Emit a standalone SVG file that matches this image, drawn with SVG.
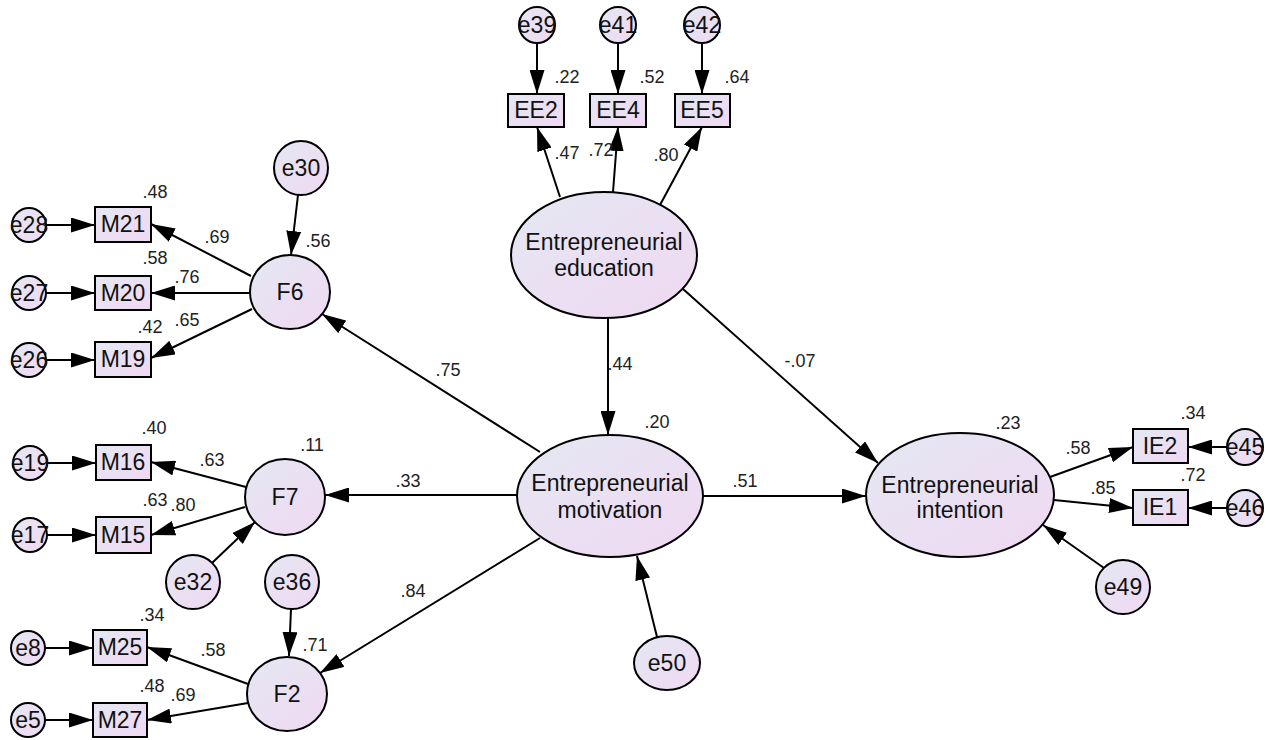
<svg xmlns="http://www.w3.org/2000/svg" width="1270" height="740" viewBox="0 0 1270 740">
<defs>
<linearGradient id="g" x1="0" y1="0" x2="1" y2="1">
<stop offset="0" stop-color="#e4e8f2"/>
<stop offset="1" stop-color="#f0d8f2"/>
</linearGradient>
<marker id="ah" viewBox="0 0 24 15" refX="24" refY="7.5" markerWidth="24" markerHeight="15" markerUnits="userSpaceOnUse" orient="auto">
<path d="M0,0 L24,7.5 L0,15 z" fill="#000"/>
</marker>
</defs>
<style>
.n{fill:url(#g);stroke:#000;stroke-width:2}
.t{font-family:"Liberation Sans",Arial,sans-serif;font-size:23px;text-anchor:middle;fill:#111}
.v{font-family:"Liberation Sans",Arial,sans-serif;font-size:18px;text-anchor:middle;fill:#222}
.c line{stroke:#000;stroke-width:2;marker-end:url(#ah)}
</style>
<rect width="1270" height="740" fill="#fff"/>
<g class="c" id="connectors">
<line x1="537" y1="43" x2="537" y2="94"/>
<line x1="618" y1="43" x2="618" y2="94"/>
<line x1="702" y1="43" x2="702" y2="94"/>
<line x1="560" y1="197" x2="537" y2="127"/>
<line x1="613" y1="192" x2="618" y2="127"/>
<line x1="660" y1="205" x2="702" y2="127"/>
<line x1="608" y1="318" x2="608" y2="435"/>
<line x1="683" y1="289" x2="878" y2="463"/>
<line x1="703" y1="496" x2="866" y2="496"/>
<line x1="540" y1="452" x2="322" y2="314"/>
<line x1="517" y1="495" x2="325" y2="495"/>
<line x1="540" y1="538" x2="320" y2="673"/>
<line x1="657" y1="637" x2="637" y2="556"/>
<line x1="1104" y1="568" x2="1043" y2="525"/>
<line x1="1050" y1="477" x2="1133" y2="447"/>
<line x1="1054" y1="500" x2="1133" y2="508"/>
<line x1="1227" y1="447" x2="1188" y2="447"/>
<line x1="1227" y1="508" x2="1188" y2="508"/>
<line x1="251" y1="276" x2="151" y2="224"/>
<line x1="250" y1="293" x2="151" y2="293"/>
<line x1="252" y1="309" x2="151" y2="358"/>
<line x1="46" y1="225" x2="95" y2="225"/>
<line x1="46" y1="293" x2="95" y2="293"/>
<line x1="46" y1="360" x2="95" y2="360"/>
<line x1="298" y1="195" x2="291" y2="255"/>
<line x1="246" y1="487" x2="151" y2="462"/>
<line x1="245" y1="507" x2="151" y2="535"/>
<line x1="212" y1="563" x2="255" y2="522"/>
<line x1="47" y1="463" x2="96" y2="463"/>
<line x1="47" y1="535" x2="96" y2="535"/>
<line x1="248" y1="684" x2="147" y2="647"/>
<line x1="248" y1="703" x2="147" y2="720"/>
<line x1="291" y1="609" x2="289" y2="656"/>
<line x1="45" y1="648" x2="93" y2="648"/>
<line x1="45" y1="720" x2="93" y2="720"/>
</g>
<g id="edu"><ellipse class="n" cx="604" cy="255" rx="93" ry="63"/><text class="t" x="604" y="250">Entrepreneurial</text><text class="t" x="604" y="276">education</text></g>
<g id="mot"><ellipse class="n" cx="610" cy="496" rx="93" ry="61"/><text class="t" x="610" y="491">Entrepreneurial</text><text class="t" x="610" y="518">motivation</text></g>
<g id="int"><ellipse class="n" cx="960" cy="495" rx="94" ry="62"/><text class="t" x="960" y="493">Entrepreneurial</text><text class="t" x="960" y="518">intention</text></g>
<g id="EE2"><rect class="n" x="508" y="94" width="56" height="33"/><text class="t" x="536" y="118">EE2</text></g>
<g id="EE4"><rect class="n" x="590" y="94" width="56" height="33"/><text class="t" x="618" y="118">EE4</text></g>
<g id="EE5"><rect class="n" x="675" y="94" width="55" height="33"/><text class="t" x="702" y="118">EE5</text></g>
<g id="e39"><circle class="n" cx="537" cy="25" r="18"/><text class="t" x="537" y="33">e39</text></g>
<g id="e41"><circle class="n" cx="618" cy="25" r="18"/><text class="t" x="618" y="33">e41</text></g>
<g id="e42"><circle class="n" cx="702" cy="25" r="18"/><text class="t" x="702" y="33">e42</text></g>
<g id="IE2"><rect class="n" x="1133" y="429" width="55" height="34"/><text class="t" x="1160" y="454">IE2</text></g>
<g id="IE1"><rect class="n" x="1133" y="490" width="55" height="35"/><text class="t" x="1160" y="515">IE1</text></g>
<g id="e45"><circle class="n" cx="1245" cy="447" r="18"/><text class="t" x="1245" y="455">e45</text></g>
<g id="e46"><circle class="n" cx="1245" cy="508" r="18"/><text class="t" x="1245" y="516">e46</text></g>
<g id="e49"><circle class="n" cx="1123" cy="587" r="27"/><text class="t" x="1123" y="595">e49</text></g>
<g id="e50"><ellipse class="n" cx="667" cy="663" rx="33" ry="27"/><text class="t" x="667" y="671">e50</text></g>
<g id="F6"><ellipse class="n" cx="290" cy="292" rx="40" ry="37"/><text class="t" x="290" y="300">F6</text></g>
<g id="F7"><ellipse class="n" cx="285" cy="497" rx="40" ry="38"/><text class="t" x="285" y="505">F7</text></g>
<g id="F2"><ellipse class="n" cx="287" cy="694" rx="40" ry="37"/><text class="t" x="287" y="702">F2</text></g>
<g id="e30"><circle class="n" cx="301" cy="168" r="27"/><text class="t" x="301" y="176">e30</text></g>
<g id="e32"><circle class="n" cx="193" cy="582" r="27"/><text class="t" x="193" y="590">e32</text></g>
<g id="e36"><circle class="n" cx="292" cy="582" r="27"/><text class="t" x="292" y="590">e36</text></g>
<g id="M21"><rect class="n" x="95" y="207" width="56" height="35"/><text class="t" x="123" y="232">M21</text></g>
<g id="M20"><rect class="n" x="95" y="276" width="56" height="34"/><text class="t" x="123" y="301">M20</text></g>
<g id="M19"><rect class="n" x="95" y="342" width="56" height="35"/><text class="t" x="123" y="367">M19</text></g>
<g id="M16"><rect class="n" x="96" y="445" width="55" height="35"/><text class="t" x="123" y="470">M16</text></g>
<g id="M15"><rect class="n" x="96" y="517" width="55" height="36"/><text class="t" x="123" y="543">M15</text></g>
<g id="M25"><rect class="n" x="93" y="630" width="54" height="35"/><text class="t" x="120" y="655">M25</text></g>
<g id="M27"><rect class="n" x="93" y="703" width="54" height="34"/><text class="t" x="120" y="728">M27</text></g>
<g id="e28"><circle class="n" cx="29" cy="225" r="17"/><text class="t" x="29" y="233">e28</text></g>
<g id="e27"><circle class="n" cx="29" cy="293" r="17"/><text class="t" x="29" y="301">e27</text></g>
<g id="e26"><circle class="n" cx="29" cy="360" r="17"/><text class="t" x="29" y="368">e26</text></g>
<g id="e19"><circle class="n" cx="30" cy="463" r="17"/><text class="t" x="30" y="471">e19</text></g>
<g id="e17"><circle class="n" cx="30" cy="535" r="17"/><text class="t" x="30" y="543">e17</text></g>
<g id="e8"><circle class="n" cx="28" cy="648" r="17"/><text class="t" x="28" y="656">e8</text></g>
<g id="e5"><circle class="n" cx="28" cy="720" r="17"/><text class="t" x="28" y="728">e5</text></g>
<g id="labels">
<text class="v" x="567" y="83">.22</text>
<text class="v" x="652" y="83">.52</text>
<text class="v" x="737" y="83">.64</text>
<text class="v" x="567" y="159">.47</text>
<text class="v" x="601" y="156">.72</text>
<text class="v" x="666" y="161">.80</text>
<text class="v" x="620" y="370">.44</text>
<text class="v" x="657" y="428">.20</text>
<text class="v" x="800" y="367">-.07</text>
<text class="v" x="745" y="487">.51</text>
<text class="v" x="1008" y="429">.23</text>
<text class="v" x="1078" y="454">.58</text>
<text class="v" x="1103" y="494">.85</text>
<text class="v" x="1193" y="419">.34</text>
<text class="v" x="1193" y="481">.72</text>
<text class="v" x="448" y="376">.75</text>
<text class="v" x="408" y="487">.33</text>
<text class="v" x="413" y="597">.84</text>
<text class="v" x="155" y="198">.48</text>
<text class="v" x="155" y="264">.58</text>
<text class="v" x="150" y="333">.42</text>
<text class="v" x="217" y="243">.69</text>
<text class="v" x="187" y="283">.76</text>
<text class="v" x="187" y="326">.65</text>
<text class="v" x="318" y="247">.56</text>
<text class="v" x="154" y="434">.40</text>
<text class="v" x="155" y="506">.63</text>
<text class="v" x="212" y="466">.63</text>
<text class="v" x="183" y="511">.80</text>
<text class="v" x="312" y="451">.11</text>
<text class="v" x="152" y="621">.34</text>
<text class="v" x="213" y="656">.58</text>
<text class="v" x="152" y="692">.48</text>
<text class="v" x="183" y="701">.69</text>
<text class="v" x="315" y="651">.71</text>
</g>
</svg>
